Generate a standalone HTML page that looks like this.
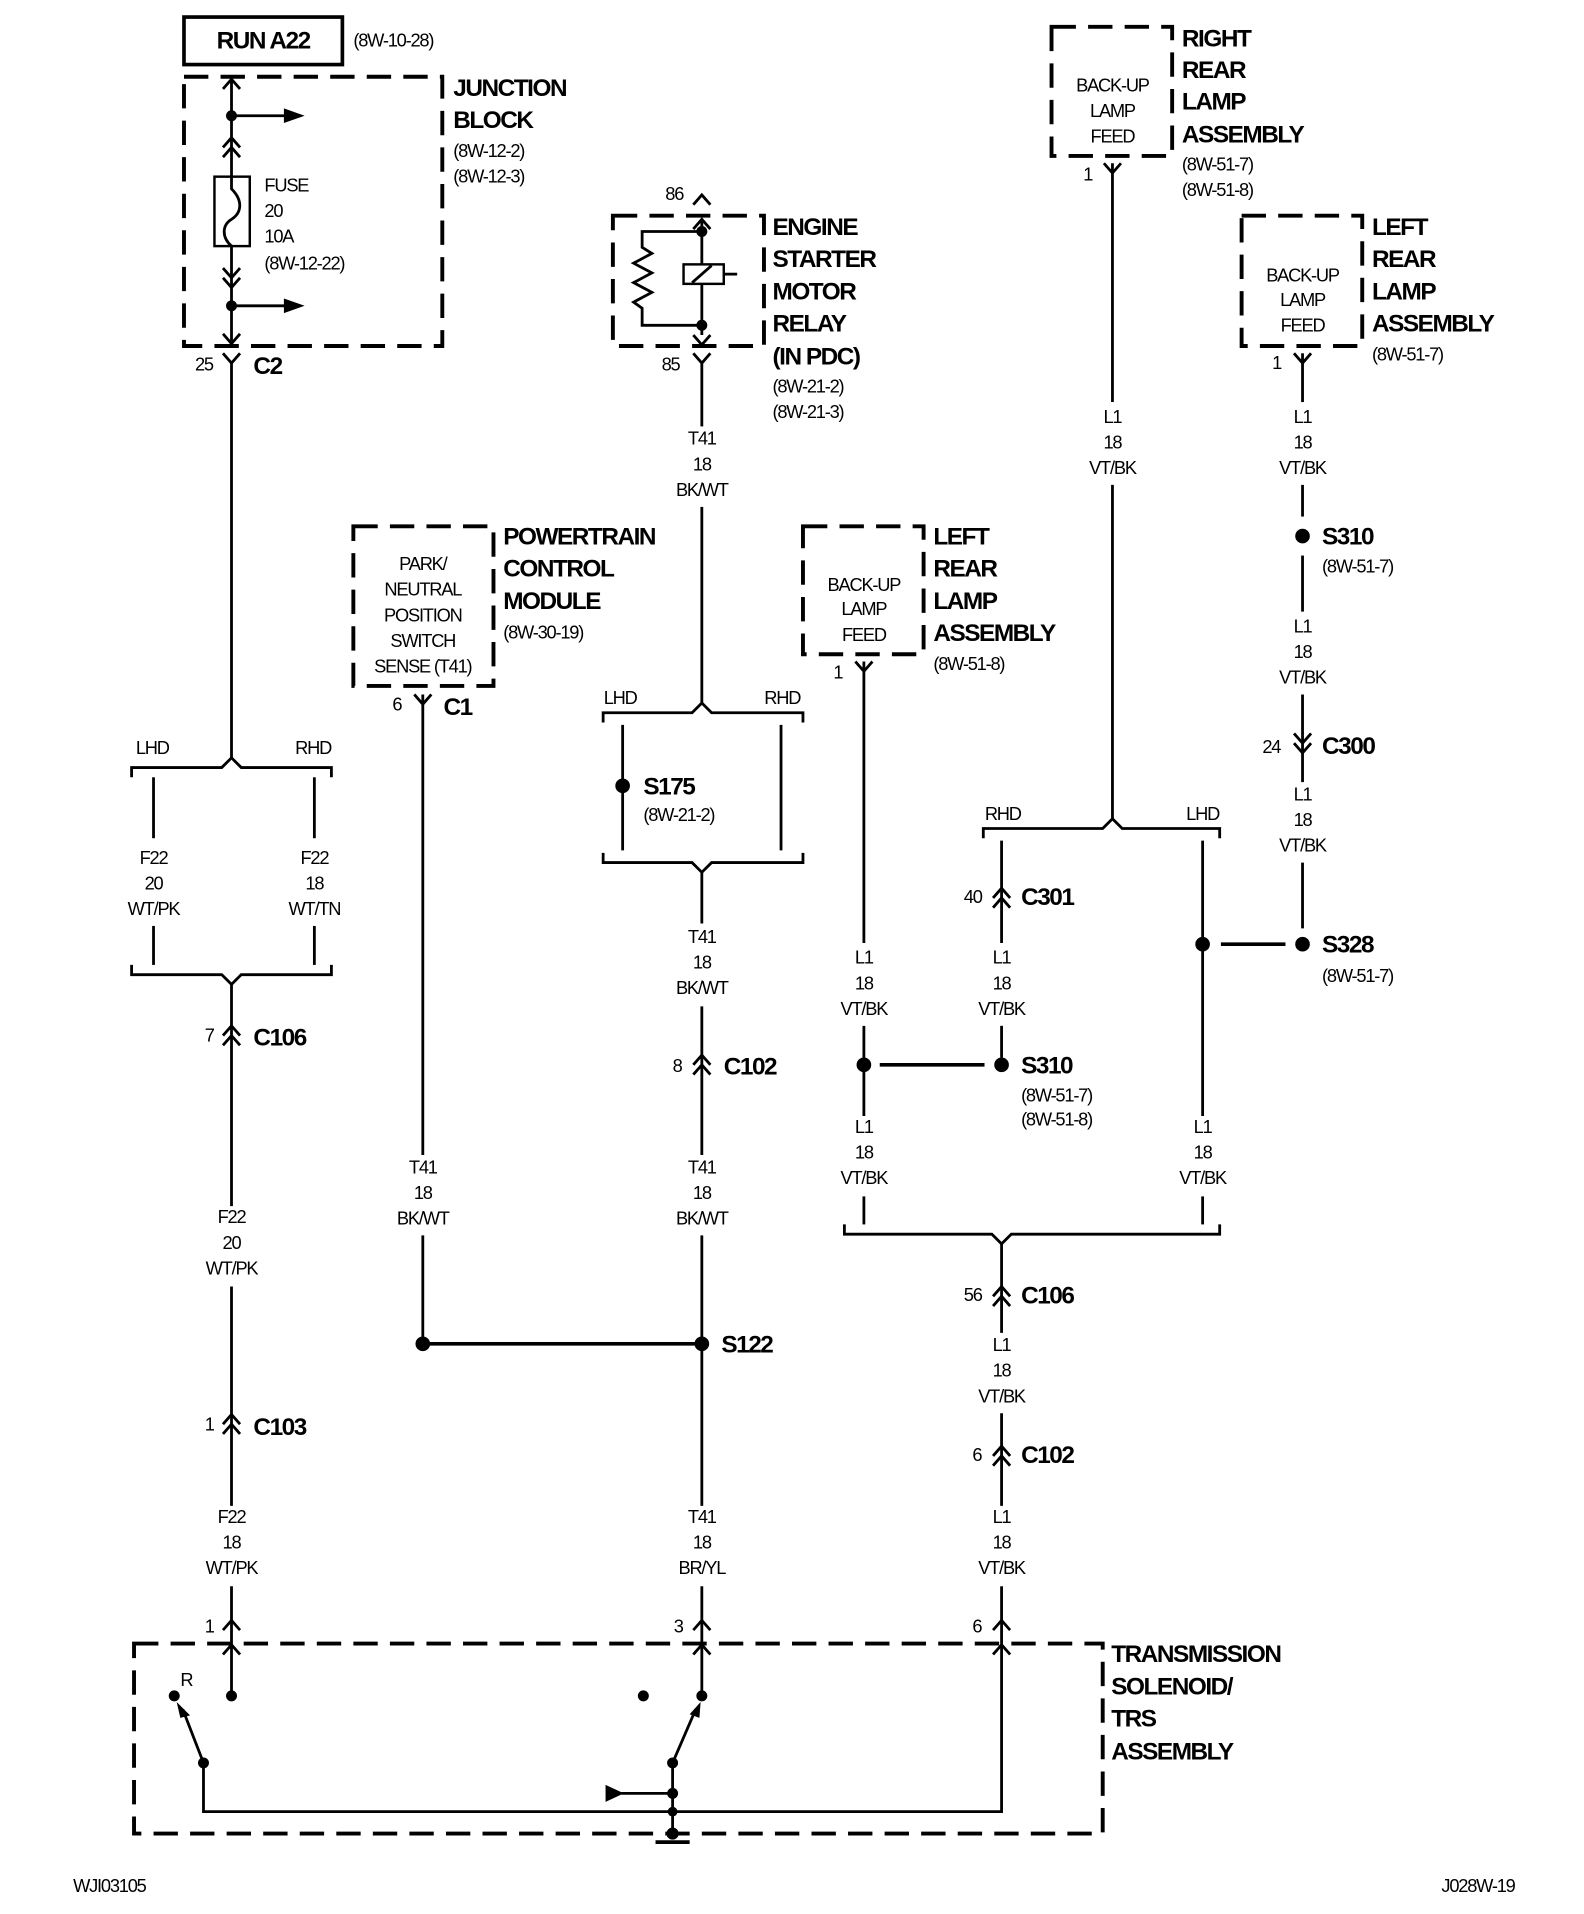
<!DOCTYPE html>
<html><head><meta charset="utf-8"><style>
html,body{margin:0;padding:0;background:#fff}
svg{display:block}
text{font-family:"Liberation Sans",sans-serif;fill:#000}
.s{font-size:15px;letter-spacing:-1px}
.b{font-size:20px;font-weight:bold;letter-spacing:-1.2px}
.m{text-anchor:middle}
.ln{stroke:#000;stroke-width:2.3;fill:none}
.dash{stroke:#000;stroke-width:3.2;fill:none;stroke-dasharray:20 10}
</style></head><body>
<svg width="1584" height="1914" viewBox="0 0 1300 1571" preserveAspectRatio="none" xmlns="http://www.w3.org/2000/svg">
<defs>
<path id="cu" d="M-7,8 L0,0 L7,8" class="ln"/>
<path id="cd" d="M-7,-8 L0,0 L7,-8" class="ln"/>
</defs>

<!-- RUN A22 -->
<rect x="151" y="14" width="130" height="39" fill="none" stroke="#000" stroke-width="3"/>
<text x="216" y="40" class="b m">RUN A22</text>
<text x="290" y="38" class="s">(8W-10-28)</text>

<!-- Junction block -->
<rect x="151" y="63" width="212" height="221" class="dash"/>
<text x="372" y="79" class="b">JUNCTION</text>
<text x="372" y="105" class="b">BLOCK</text>
<text x="372" y="129" class="s">(8W-12-2)</text>
<text x="372" y="150" class="s">(8W-12-3)</text>
<line x1="190" y1="65" x2="190" y2="145" class="ln"/>
<line x1="190" y1="202" x2="190" y2="280" class="ln"/>
<use href="#cu" x="190" y="65"/>
<circle cx="190" cy="95" r="4.5"/>
<line x1="190" y1="95" x2="235" y2="95" class="ln"/><path d="M233,89 L250,95 L233,101Z"/>
<use href="#cu" x="190" y="113"/><use href="#cu" x="190" y="121"/>
<rect x="176" y="145" width="29" height="57" fill="none" stroke="#000" stroke-width="2"/>
<path d="M190,145 L190,155 C200,165 198,175 190,180 C182,185 182,195 190,202" class="ln"/>
<text x="217" y="157" class="s">FUSE</text>
<text x="217" y="178" class="s">20</text>
<text x="217" y="199" class="s">10A</text>
<text x="217" y="221" class="s">(8W-12-22)</text>
<use href="#cd" x="190" y="228"/><use href="#cd" x="190" y="236"/>
<circle cx="190" cy="251" r="4.5"/>
<line x1="190" y1="251" x2="235" y2="251" class="ln"/><path d="M233,245 L250,251 L233,257Z"/>
<use href="#cd" x="190" y="282"/>
<use href="#cd" x="190" y="298"/>
<text x="160" y="304" class="s">25</text>
<text x="208" y="307" class="b">C2</text>
<line x1="190" y1="298" x2="190" y2="622" class="ln"/>
<path d="M108,638 L108,630 L182,630 L190,622 L198,630 L272,630 L272,638" class="ln"/>
<text x="125" y="619" class="s m">LHD</text>
<text x="257" y="619" class="s m">RHD</text>
<line x1="126" y1="638" x2="126" y2="688" class="ln"/>
<line x1="258" y1="638" x2="258" y2="688" class="ln"/>
<text x="126" y="709" class="s m">F22</text><text x="126" y="730" class="s m">20</text><text x="126" y="751" class="s m">WT/PK</text>
<text x="258" y="709" class="s m">F22</text><text x="258" y="730" class="s m">18</text><text x="258" y="751" class="s m">WT/TN</text>
<line x1="126" y1="760" x2="126" y2="792" class="ln"/>
<line x1="258" y1="760" x2="258" y2="792" class="ln"/>
<path d="M108,792 L108,800 L182,800 L190,808 L198,800 L272,800 L272,792" class="ln"/>
<line x1="190" y1="808" x2="190" y2="990" class="ln"/>
<use href="#cu" x="190" y="842"/><use href="#cu" x="190" y="850"/>
<text x="168" y="855" class="s">7</text><text x="208" y="858" class="b">C106</text>
<text x="190" y="1004" class="s m">F22</text><text x="190" y="1025" class="s m">20</text><text x="190" y="1046" class="s m">WT/PK</text>
<line x1="190" y1="1056" x2="190" y2="1236" class="ln"/>
<use href="#cu" x="190" y="1161"/><use href="#cu" x="190" y="1169"/>
<text x="168" y="1174" class="s">1</text><text x="208" y="1178" class="b">C103</text>
<text x="190" y="1250" class="s m">F22</text><text x="190" y="1271" class="s m">18</text><text x="190" y="1292" class="s m">WT/PK</text>
<line x1="190" y1="1302" x2="190" y2="1390" class="ln"/>
<use href="#cu" x="190" y="1330"/><use href="#cu" x="190" y="1350"/>
<text x="168" y="1340" class="s">1</text>
<circle cx="190" cy="1392" r="4.5"/>

<!-- Transmission -->
<rect x="110" y="1349" width="795" height="156" class="dash"/>
<text x="912" y="1364" class="b">TRANSMISSION</text>
<text x="912" y="1391" class="b">SOLENOID/</text>
<text x="912" y="1417" class="b">TRS</text>
<text x="912" y="1444" class="b">ASSEMBLY</text>
<text x="148" y="1384" class="s">R</text>
<circle cx="143" cy="1392" r="4.5"/>
<circle cx="167" cy="1447" r="4.5"/>
<line x1="167" y1="1447" x2="150" y2="1403" class="ln"/><path d="M145,1397 L156,1408 L148,1410Z"/>
<path d="M167,1447 L167,1487 L822,1487 L822,1350" class="ln"/>
<circle cx="528" cy="1392" r="4.5"/>
<circle cx="576" cy="1392" r="4.5"/>
<circle cx="552" cy="1447" r="4.5"/>
<line x1="552" y1="1447" x2="571" y2="1403" class="ln"/><path d="M575,1397 L574,1410 L566,1407Z"/>
<line x1="552" y1="1447" x2="552" y2="1505" class="ln"/>
<circle cx="552" cy="1472" r="4.5"/>
<line x1="510" y1="1472" x2="552" y2="1472" class="ln"/><path d="M497,1465 L512,1472 L497,1479Z"/>
<circle cx="552" cy="1487" r="4"/>
<circle cx="552" cy="1505" r="5"/>
<line x1="538" y1="1512" x2="566" y2="1512" stroke="#000" stroke-width="3"/>

<!-- PCM -->
<rect x="290" y="432" width="115" height="131" class="dash"/>
<text x="347" y="468" class="s m">PARK/</text>
<text x="347" y="489" class="s m">NEUTRAL</text>
<text x="347" y="510" class="s m">POSITION</text>
<text x="347" y="531" class="s m">SWITCH</text>
<text x="347" y="552" class="s m">SENSE (T41)</text>
<text x="413" y="447" class="b">POWERTRAIN</text>
<text x="413" y="473" class="b">CONTROL</text>
<text x="413" y="500" class="b">MODULE</text>
<text x="413" y="524" class="s">(8W-30-19)</text>
<use href="#cd" x="347" y="578"/>
<text x="322" y="583" class="s">6</text><text x="364" y="587" class="b">C1</text>
<line x1="347" y1="570" x2="347" y2="948" class="ln"/>
<text x="347" y="963" class="s m">T41</text><text x="347" y="984" class="s m">18</text><text x="347" y="1005" class="s m">BK/WT</text>
<line x1="347" y1="1014" x2="347" y2="1103" class="ln"/>
<circle cx="347" cy="1103" r="6"/>
<line x1="347" y1="1103" x2="576" y2="1103" stroke="#000" stroke-width="3"/>
<circle cx="576" cy="1103" r="6"/>
<text x="592" y="1110" class="b">S122</text>

<!-- Relay -->
<rect x="503" y="177" width="124" height="107" class="dash"/>
<text x="546" y="164" class="s">86</text>
<use href="#cu" x="576" y="160"/><use href="#cu" x="576" y="180"/>
<line x1="576" y1="180" x2="576" y2="275" class="ln"/>
<circle cx="576" cy="190" r="4.5"/><circle cx="576" cy="267" r="4.5"/>
<path d="M576,190 L527,190 L527,203 L535,208 L520,216 L535,224 L520,232 L535,240 L520,248 L527,253 L527,267 L576,267" class="ln"/>
<rect x="561" y="217" width="33" height="16" fill="#fff" stroke="#000" stroke-width="2"/>
<line x1="568" y1="232" x2="584" y2="218" class="ln"/>
<line x1="594" y1="225" x2="605" y2="225" class="ln"/>
<use href="#cd" x="576" y="283"/>
<use href="#cd" x="576" y="298"/>
<text x="543" y="304" class="s">85</text>
<text x="634" y="193" class="b">ENGINE</text>
<text x="634" y="219" class="b">STARTER</text>
<text x="634" y="246" class="b">MOTOR</text>
<text x="634" y="272" class="b">RELAY</text>
<text x="634" y="299" class="b">(IN PDC)</text>
<text x="634" y="322" class="s">(8W-21-2)</text>
<text x="634" y="343" class="s">(8W-21-3)</text>
<line x1="576" y1="298" x2="576" y2="350" class="ln"/>
<text x="576" y="365" class="s m">T41</text><text x="576" y="386" class="s m">18</text><text x="576" y="407" class="s m">BK/WT</text>
<line x1="576" y1="416" x2="576" y2="577" class="ln"/>
<path d="M495,593 L495,585 L568,585 L576,577 L584,585 L659,585 L659,593" class="ln"/>
<text x="509" y="578" class="s m">LHD</text><text x="642" y="578" class="s m">RHD</text>
<line x1="511" y1="595" x2="511" y2="698" class="ln"/>
<line x1="641" y1="595" x2="641" y2="698" class="ln"/>
<circle cx="511" cy="645" r="6"/>
<text x="528" y="652" class="b">S175</text>
<text x="528" y="674" class="s">(8W-21-2)</text>
<path d="M495,700 L495,708 L568,708 L576,716 L584,708 L659,708 L659,700" class="ln"/>
<line x1="576" y1="716" x2="576" y2="758" class="ln"/>
<text x="576" y="774" class="s m">T41</text><text x="576" y="795" class="s m">18</text><text x="576" y="816" class="s m">BK/WT</text>
<line x1="576" y1="826" x2="576" y2="948" class="ln"/>
<use href="#cu" x="576" y="866"/><use href="#cu" x="576" y="874"/>
<text x="552" y="880" class="s">8</text><text x="594" y="882" class="b">C102</text>
<text x="576" y="963" class="s m">T41</text><text x="576" y="984" class="s m">18</text><text x="576" y="1005" class="s m">BK/WT</text>
<line x1="576" y1="1014" x2="576" y2="1236" class="ln"/>
<text x="576" y="1250" class="s m">T41</text><text x="576" y="1271" class="s m">18</text><text x="576" y="1292" class="s m">BR/YL</text>
<line x1="576" y1="1302" x2="576" y2="1390" class="ln"/>
<use href="#cu" x="576" y="1330"/><use href="#cu" x="576" y="1350"/>
<text x="553" y="1340" class="s">3</text>

<!-- Left rear lamp lower -->
<rect x="659" y="432" width="99" height="105" class="dash"/>
<text x="709" y="485" class="s m">BACK-UP</text><text x="709" y="505" class="s m">LAMP</text><text x="709" y="526" class="s m">FEED</text>
<text x="766" y="447" class="b">LEFT</text><text x="766" y="473" class="b">REAR</text><text x="766" y="500" class="b">LAMP</text><text x="766" y="526" class="b">ASSEMBLY</text>
<text x="766" y="550" class="s">(8W-51-8)</text>
<use href="#cd" x="709" y="551"/><text x="684" y="557" class="s">1</text>
<line x1="709" y1="543" x2="709" y2="774" class="ln"/>
<text x="709" y="791" class="s m">L1</text><text x="709" y="812" class="s m">18</text><text x="709" y="833" class="s m">VT/BK</text>
<line x1="709" y1="842" x2="709" y2="916" class="ln"/>
<circle cx="709" cy="874" r="6"/>
<line x1="722" y1="874" x2="808" y2="874" stroke="#000" stroke-width="3"/>
<circle cx="822" cy="874" r="6"/>
<text x="838" y="881" class="b">S310</text>
<text x="838" y="904" class="s">(8W-51-7)</text><text x="838" y="924" class="s">(8W-51-8)</text>
<text x="709" y="930" class="s m">L1</text><text x="709" y="951" class="s m">18</text><text x="709" y="972" class="s m">VT/BK</text>
<line x1="709" y1="982" x2="709" y2="1005" class="ln"/>

<!-- Right rear lamp -->
<rect x="863" y="22" width="99" height="106" class="dash"/>
<text x="913" y="75" class="s m">BACK-UP</text><text x="913" y="96" class="s m">LAMP</text><text x="913" y="117" class="s m">FEED</text>
<text x="970" y="38" class="b">RIGHT</text><text x="970" y="64" class="b">REAR</text><text x="970" y="90" class="b">LAMP</text><text x="970" y="117" class="b">ASSEMBLY</text>
<text x="970" y="140" class="s">(8W-51-7)</text><text x="970" y="161" class="s">(8W-51-8)</text>
<use href="#cd" x="913" y="142"/><text x="889" y="148" class="s">1</text>
<line x1="913" y1="134" x2="913" y2="330" class="ln"/>
<text x="913" y="347" class="s m">L1</text><text x="913" y="368" class="s m">18</text><text x="913" y="389" class="s m">VT/BK</text>
<line x1="913" y1="398" x2="913" y2="672" class="ln"/>
<path d="M807,688 L807,680 L905,680 L913,672 L921,680 L1001,680 L1001,688" class="ln"/>
<text x="823" y="673" class="s m">RHD</text><text x="987" y="673" class="s m">LHD</text>
<line x1="822" y1="690" x2="822" y2="774" class="ln"/>
<use href="#cu" x="822" y="729"/><use href="#cu" x="822" y="737"/>
<text x="791" y="741" class="s">40</text><text x="838" y="743" class="b">C301</text>
<text x="822" y="791" class="s m">L1</text><text x="822" y="812" class="s m">18</text><text x="822" y="833" class="s m">VT/BK</text>
<line x1="822" y1="842" x2="822" y2="868" class="ln"/>
<line x1="987" y1="690" x2="987" y2="916" class="ln"/>
<circle cx="987" cy="775" r="6"/>
<line x1="1002" y1="775" x2="1055" y2="775" stroke="#000" stroke-width="3"/>
<circle cx="1069" cy="775" r="6"/>
<text x="1085" y="782" class="b">S328</text>
<text x="1085" y="806" class="s">(8W-51-7)</text>
<text x="987" y="930" class="s m">L1</text><text x="987" y="951" class="s m">18</text><text x="987" y="972" class="s m">VT/BK</text>
<line x1="987" y1="982" x2="987" y2="1005" class="ln"/>
<path d="M693,1005 L693,1013 L814,1013 L822,1021 L830,1013 L1001,1013 L1001,1005" class="ln"/>
<line x1="822" y1="1021" x2="822" y2="1094" class="ln"/>
<use href="#cu" x="822" y="1056"/><use href="#cu" x="822" y="1064"/>
<text x="791" y="1068" class="s">56</text><text x="838" y="1070" class="b">C106</text>
<text x="822" y="1109" class="s m">L1</text><text x="822" y="1130" class="s m">18</text><text x="822" y="1151" class="s m">VT/BK</text>
<line x1="822" y1="1160" x2="822" y2="1236" class="ln"/>
<use href="#cu" x="822" y="1187"/><use href="#cu" x="822" y="1195"/>
<text x="798" y="1199" class="s">6</text><text x="838" y="1201" class="b">C102</text>
<text x="822" y="1250" class="s m">L1</text><text x="822" y="1271" class="s m">18</text><text x="822" y="1292" class="s m">VT/BK</text>
<line x1="822" y1="1302" x2="822" y2="1350" class="ln"/>
<use href="#cu" x="822" y="1330"/><use href="#cu" x="822" y="1350"/>
<text x="798" y="1340" class="s">6</text>

<!-- Left rear lamp top -->
<rect x="1019" y="177" width="99" height="107" class="dash"/>
<text x="1069" y="231" class="s m">BACK-UP</text><text x="1069" y="251" class="s m">LAMP</text><text x="1069" y="272" class="s m">FEED</text>
<text x="1126" y="193" class="b">LEFT</text><text x="1126" y="219" class="b">REAR</text><text x="1126" y="246" class="b">LAMP</text><text x="1126" y="272" class="b">ASSEMBLY</text>
<text x="1126" y="296" class="s">(8W-51-7)</text>
<use href="#cd" x="1069" y="298"/><text x="1044" y="303" class="s">1</text>
<line x1="1069" y1="290" x2="1069" y2="330" class="ln"/>
<text x="1069" y="347" class="s m">L1</text><text x="1069" y="368" class="s m">18</text><text x="1069" y="389" class="s m">VT/BK</text>
<line x1="1069" y1="398" x2="1069" y2="424" class="ln"/>
<circle cx="1069" cy="440" r="6"/>
<text x="1085" y="447" class="b">S310</text><text x="1085" y="470" class="s">(8W-51-7)</text>
<line x1="1069" y1="456" x2="1069" y2="502" class="ln"/>
<text x="1069" y="519" class="s m">L1</text><text x="1069" y="540" class="s m">18</text><text x="1069" y="561" class="s m">VT/BK</text>
<line x1="1069" y1="570" x2="1069" y2="642" class="ln"/>
<use href="#cd" x="1069" y="610"/><use href="#cd" x="1069" y="618"/>
<text x="1036" y="618" class="s">24</text><text x="1085" y="619" class="b">C300</text>
<text x="1069" y="657" class="s m">L1</text><text x="1069" y="678" class="s m">18</text><text x="1069" y="699" class="s m">VT/BK</text>
<line x1="1069" y1="708" x2="1069" y2="762" class="ln"/>

<text x="60" y="1553" class="s">WJI03105</text>
<text x="1183" y="1553" class="s">J028W-19</text>
</svg>
</body></html>
